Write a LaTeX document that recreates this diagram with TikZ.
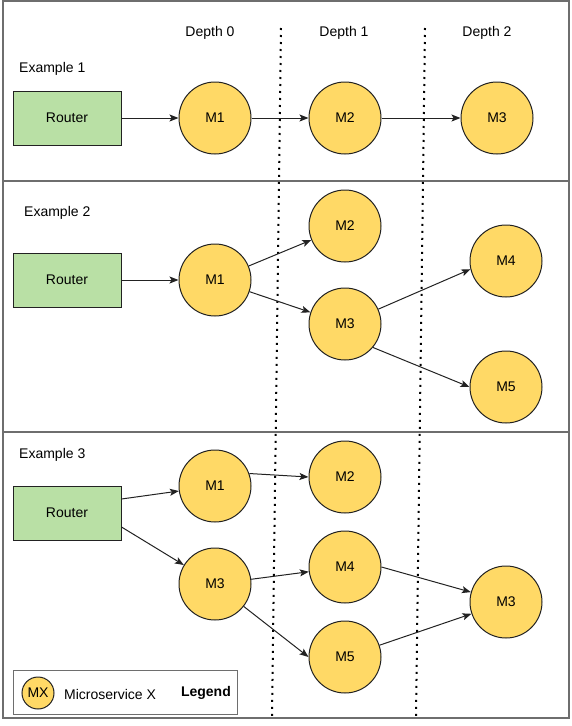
\documentclass[tikz,border=0pt]{standalone}
\usepackage{fontspec}
\setmainfont{Liberation Sans}
\usetikzlibrary{arrows.meta}
\definecolor{routerfill}{HTML}{B9E0A5}
\definecolor{msfill}{HTML}{FFD966}
\definecolor{framegray}{HTML}{6E6E6E}
\definecolor{edgecol}{HTML}{222222}
\begin{document}
\begin{tikzpicture}[x=1pt,y=-1pt,
  every node/.style={font=\fontsize{14}{17}\selectfont},
  router/.style={draw=edgecol,fill=routerfill,line width=1pt,minimum width=108pt,minimum height=54pt,inner sep=0pt},
  ms/.style={circle,draw=edgecol,fill=msfill,line width=1pt,minimum size=72pt,inner sep=0pt},
  msmall/.style={circle,draw=edgecol,fill=msfill,line width=1pt,minimum size=32pt,inner sep=0pt},
  lbl/.style={inner sep=0pt},
  conn/.style={draw=edgecol,line width=1pt,-{Stealth[length=9pt,width=7pt,inset=2pt]}},
  frame/.style={draw=framegray,line width=1.4pt},
  dotline/.style={draw=black,line width=2pt,dash pattern=on 2pt off 5pt}
]
\useasboundingbox (0,0) rectangle (572,726);
% frames
\draw[frame] (3,1) rectangle (569,718);
\draw[frame] (3,181) -- (569,181);
\draw[frame] (3,432) -- (569,432);
% dotted depth separators
\coordinate (d1t) at (281,28);
\coordinate (d1b) at (272,718);
\coordinate (d2t) at (425,28);
\coordinate (d2b) at (416,718);
\draw[dotline] (d1t) -- (d1b);
\draw[dotline] (d2t) -- (d2b);
% depth labels
\node[lbl] (dep0) at (210,33) {Depth 0};
\node[lbl] (dep1) at (344,33) {Depth 1};
\node[lbl] (dep2) at (487,33) {Depth 2};
% Example 1
\node[lbl,anchor=west] (ex1) at (19,69) {Example 1};
\node[router] (r1) at (67,118) {Router};
\node[ms] (a1) at (215,118) {M1};
\node[ms] (a2) at (345,118) {M2};
\node[ms] (a3) at (497,118) {M3};
\draw[conn] (r1) -- (a1);
\draw[conn] (a1) -- (a2);
\draw[conn] (a2) -- (a3);
% Example 2
\node[lbl,anchor=west] (ex2) at (24,213) {Example 2};
\node[router] (r2) at (67,280) {Router};
\node[ms] (b1) at (215,280) {M1};
\node[ms] (b2) at (345,226) {M2};
\node[ms] (b3) at (345,324) {M3};
\node[ms] (b4) at (506,261) {M4};
\node[ms] (b5) at (506,387) {M5};
\draw[conn] (r2) -- (b1);
\draw[conn] (b1) -- (b2);
\draw[conn] (b1) -- (b3);
\draw[conn] (b3.24) -- (b4.193);
\draw[conn] (b3.-40) -- (b5.west);
% Example 3
\node[lbl,anchor=west] (ex3) at (19,455) {Example 3};
\node[router] (r3) at (67,513) {Router};
\node[ms] (c1) at (215,486) {M1};
\node[ms] (c2) at (345,477) {M2};
\node[ms] (c3) at (215,584) {M3};
\node[ms] (c4) at (345,567) {M4};
\node[ms] (c5) at (345,657) {M5};
\node[ms] (c6) at (506,602) {M3};
\draw[conn] ([yshift=14pt]r3.east) -- (c1);
\draw[conn] ([yshift=-14pt]r3.east) -- (c3);
\draw[conn] (c1.20) -- (c2.west);
\draw[conn] (c3) -- (c4);
\draw[conn] (c3) -- (c5.west);
\draw[conn] (c4.east) -- (c6);
\draw[conn] (c5) -- (c6);
% Legend
\node[draw=framegray,line width=1pt,minimum width=224pt,minimum height=44pt,inner sep=0pt] (legbox) at (125,692) {};
\node[msmall] (mx) at (38,693) {MX};
\node[lbl,anchor=west] (mxl) at (64,694) {Microservice X};
\node[lbl,anchor=east,font=\fontsize{14}{17}\selectfont\bfseries] (legt) at (231,693) {Legend};
\end{tikzpicture}
\end{document}
